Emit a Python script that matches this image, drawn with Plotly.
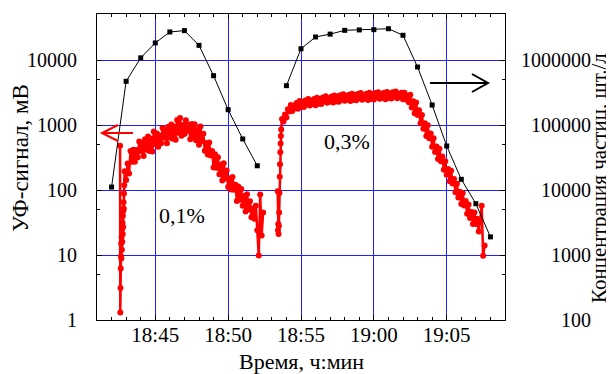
import datetime as dt
import math
import plotly.graph_objects as go

# ---- particle concentration (right axis), pcs/l ----
conc_times_1 = ["18:42", "18:43", "18:44", "18:45", "18:46", "18:47", "18:48", "18:49", "18:50", "18:51", "18:52"]
conc_values_1 = [11100, 470000, 1080000, 1830000, 2700000, 2830000, 1680000, 574000, 172000, 61000, 23600]
conc_times_2 = ["18:54", "18:55", "18:56", "18:57", "18:58", "18:59", "19:00", "19:01", "19:02",
                "19:03", "19:04", "19:05", "19:06", "19:07", "19:08"]
conc_values_2 = [403000, 1490000, 2260000, 2500000, 2860000, 2900000, 2930000, 3030000, 2400000,
                 780000, 203000, 47500, 14600, 6160, 1900]

# ---- UV signal (left axis), mV; recorded in segments: start time, sample step (s), values ----
uv_start_a, uv_step_a = "18:42:35", 0.9
uv_values_a = [480, 1.3, 3.1, 6.2, 9.6, 15, 8.8, 19, 12, 25, 16, 31, 21, 40, 27, 48, 65, 52, 88, 118]

uv_start_b, uv_step_b = "18:42:54", 6.0
uv_values_b = [195, 143, 255, 179, 397, 271, 417, 272, 414, 320,
               555, 398, 529, 333, 604, 415, 663, 398, 621, 390,
               792, 507, 739, 463, 692, 526, 898, 637, 838, 523,
               940, 643, 1020, 612, 950, 593, 1196, 762, 1280, 685,
               996, 725, 1184, 805, 1012, 605, 1036, 676, 1024, 582,
               849, 498, 945, 568, 732, 400, 527, 352, 536, 339,
               398, 222, 355, 220, 319, 174, 246, 140, 258, 151,
               199, 111, 150, 102, 158, 101, 120, 68, 113, 71,
               104, 57, 81, 46.5, 86, 50, 67, 38, 52, 36,
               57, 24, 9.8, 85, 20, 45]

uv_start_c, uv_step_c = "18:53:24", 1.2
uv_values_c = [96, 24, 30, 21, 28, 45, 90, 160, 250, 380, 520, 680, 850]

uv_start_d, uv_step_d = "18:53:42", 6.0
uv_values_d = [1240, 1130, 1452, 1307, 1749, 1615, 2023, 1647, 1981, 1803,
               2180, 1775, 2330, 1899, 2253, 1888, 2382, 2081, 2503, 1998,
               2356, 2102, 2507, 2018, 2621, 2124, 2518, 2108, 2657, 2313,
               2774, 2203, 2590, 2309, 2752, 2210, 2856, 2309, 2735, 2279,
               2866, 2489, 2972, 2354, 2766, 2458, 2928, 2349, 3030, 2441,
               2883, 2400, 3007, 2604, 3105, 2452, 2872, 2547, 3026, 2421,
               3125, 2516, 2971, 2473, 3100, 2685, 3201, 2528, 2962, 2628,
               3122, 2499, 3226, 2599, 3069, 2549, 3187, 2752, 3274, 2578,
               3013, 2665, 3139, 2480, 3136, 2466, 2809, 2235, 2912, 1861,
               2321, 1513, 2225, 1426, 1691, 1062, 1428, 877, 1062, 679,
               988, 625, 742, 464, 624, 385, 468, 300, 431, 277,
               328, 204, 278, 172, 211, 136, 198, 126, 147, 92,
               125, 77, 94, 61, 90, 58, 68, 43, 60, 37,
               46, 30, 45, 30, 36, 23, 34, 57, 9.7, 14]

left_ticks = [1, 10, 100, 1000, 10000]
right_ticks = [100, 1000, 10000, 100000, 1000000]
right_tick_text = ["100", "1000", "10000", "100000", "1000000"]
x_range = ["18:41", "19:09"]

FONT = "Liberation Serif"


def hm(s):
    fmt = "%H:%M:%S" if s.count(":") == 2 else "%H:%M"
    t = dt.datetime.strptime(s, fmt).time()
    return dt.datetime.combine(dt.date(2000, 1, 1), t)


def seg(start, step, vals):
    base = hm(start)
    return [base + dt.timedelta(seconds=i * step) for i in range(len(vals))], list(vals)


ta, va = seg(uv_start_a, uv_step_a, uv_values_a)
tb, vb = seg(uv_start_b, uv_step_b, uv_values_b)
tc, vc = seg(uv_start_c, uv_step_c, uv_values_c)
td, vd = seg(uv_start_d, uv_step_d, uv_values_d)
uv_t = ta + tb + [None] + tc + td
uv_v = va + vb + [None] + vc + vd

conc_t = [hm(s) for s in conc_times_1] + [None] + [hm(s) for s in conc_times_2]
conc_v = conc_values_1 + [None] + conc_values_2

fig = go.Figure()
fig.add_trace(go.Scatter(x=uv_t, y=uv_v, mode="lines+markers", yaxis="y",
                         line=dict(color="#ff0000", width=2.5),
                         marker=dict(color="#ff0000", size=6, symbol="circle"),
                         connectgaps=False, showlegend=False))
fig.add_trace(go.Scatter(x=conc_t, y=conc_v, mode="lines+markers", yaxis="y2",
                         line=dict(color="black", width=1),
                         marker=dict(color="black", size=5, symbol="square"),
                         connectgaps=False, showlegend=False))

# page body has an 8px margin; reference pixel coords are page coords
OFF = 8
W, H = 614 - OFF, 374 - OFF
L, R, T, B = 97 - OFF, 505 - OFF, 14 - OFF, 320 - OFF
PW, PH = R - L, B - T
DEC = 65.0
top_dec = (B - T) / DEC

grid_blue = "rgb(30,30,255)"

fig.update_layout(
    width=W, height=H,
    margin=dict(l=L, r=W - R, t=T, b=H - B, pad=0, autoexpand=False),
    paper_bgcolor="white", plot_bgcolor="white",
    font=dict(family=FONT, size=20, color="black"),
    showlegend=False,
    xaxis=dict(
        type="date",
        range=[hm(x_range[0]), hm(x_range[1])],
        tickformat="%H:%M",
        tick0=hm("18:45"), dtick=300000,
        showgrid=True, gridcolor=grid_blue, gridwidth=1,
        ticks="inside", ticklen=5, tickcolor="black",
        showline=True, linecolor="black", linewidth=1, mirror="ticks",
        zeroline=False,
        ticklabelstandoff=-4,
        tickfont=dict(family=FONT, size=21, color="black"),
        minor=dict(dtick=60000, tick0=hm("18:45"), ticks="inside", ticklen=3,
                   tickcolor="black", showgrid=False),
    ),
    yaxis=dict(
        type="log",
        range=[0, top_dec],
        tickmode="array", tickvals=left_ticks, ticktext=[str(v) for v in left_ticks],
        showgrid=True, gridcolor=grid_blue, gridwidth=1,
        ticks="inside", ticklen=5, tickcolor="black",
        showline=True, linecolor="black", linewidth=1, mirror=False,
        zeroline=False,
        ticklabelstandoff=15,
        tickfont=dict(family=FONT, size=20, color="black"),
        minor=dict(tickmode="array", tickvals=[5, 50, 500, 5000], ticks="inside",
                   ticklen=3, tickcolor="black", showgrid=False),
    ),
    yaxis2=dict(
        type="log", overlaying="y", side="right",
        range=[2, 2 + top_dec],
        tickmode="array", tickvals=right_ticks,
        showticklabels=False,
        showgrid=False,
        ticks="inside", ticklen=5, tickcolor="black",
        showline=True, linecolor="black", linewidth=1,
        zeroline=False,
        minor=dict(tickmode="array", tickvals=[500, 5000, 50000, 500000], ticks="inside",
                   ticklen=3, tickcolor="black", showgrid=False),
    ),
)


# helpers taking reference-page pixel coordinates
def px(x):
    return (x - OFF - L) / PW


def py(y):
    return (B - (y - OFF)) / PH


annotations = []
# right axis tick labels (right-aligned, as in the reference)
for v, txt in zip(right_ticks, right_tick_text):
    annotations.append(dict(x=px(593), y=math.log10(v), xref="paper", yref="y2",
                            text=txt, showarrow=False, xanchor="right", yanchor="middle",
                            font=dict(family=FONT, size=20, color="black")))
# axis titles
annotations.append(dict(x=px(20), y=py(158), xref="paper", yref="paper",
                        text="УФ-сигнал, мВ", textangle=-90, showarrow=False,
                        xanchor="center", yanchor="middle",
                        font=dict(family=FONT, size=23, color="black")))
annotations.append(dict(x=px(599), y=py(178), xref="paper", yref="paper",
                        text="Концентрация частиц, шт./л", textangle=-90, showarrow=False,
                        xanchor="center", yanchor="middle",
                        font=dict(family=FONT, size=21, color="black")))
annotations.append(dict(x=px(301), y=py(361), xref="paper", yref="paper",
                        text="Время, ч:мин", showarrow=False,
                        xanchor="center", yanchor="middle",
                        font=dict(family=FONT, size=22, color="black")))
# labels of the two runs
annotations.append(dict(x=px(182), y=py(215), xref="paper", yref="paper",
                        text="0,1%", showarrow=False, xanchor="center", yanchor="middle",
                        font=dict(family=FONT, size=22, color="black")))
annotations.append(dict(x=px(347), y=py(141), xref="paper", yref="paper",
                        text="0,3%", showarrow=False, xanchor="center", yanchor="middle",
                        font=dict(family=FONT, size=22, color="black")))
fig.update_layout(annotations=annotations)


def P(x, y):
    return f"{px(x):.5f},{py(y):.5f}"


shapes = [
    # red arrow -> left axis
    dict(type="path", xref="paper", yref="paper",
         path=f"M {P(133,133)} L {P(102,133)} M {P(118,125)} L {P(102,133)} L {P(118,141)}",
         line=dict(color="#ff0000", width=2)),
    # black arrow -> right axis
    dict(type="path", xref="paper", yref="paper",
         path=f"M {P(430,83)} L {P(488,83)} M {P(472,74)} L {P(488,83)} L {P(472,92)}",
         line=dict(color="black", width=2)),
]
fig.update_layout(shapes=shapes)

fig.write_html("out.html")
